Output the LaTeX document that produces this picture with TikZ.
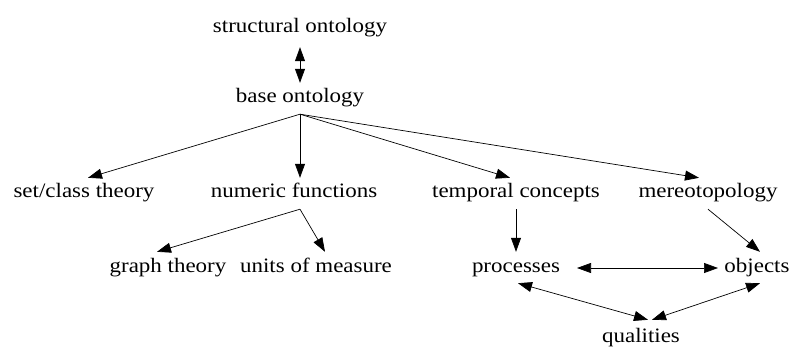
\documentclass[tikz,border=0pt]{standalone}
\usepackage{fontspec}
\setmainfont{Liberation Serif}[FakeStretch=1.12]
\usetikzlibrary{arrows.meta,calc}
\begin{document}
\begin{tikzpicture}[x=1pt,y=-1pt,
  concept/.style={anchor=base,inner sep=4pt,text height=16pt,text depth=7pt,
    font=\fontsize{20.5pt}{24pt}\selectfont},
  link/.style={line width=0.7pt,-{Triangle[length=14pt,width=10pt]}},
  both/.style={line width=0.7pt,{Triangle[length=14pt,width=10pt]}-{Triangle[length=14pt,width=10pt]}}]
\useasboundingbox (0,0) rectangle (794,347);

% concepts, placed on their baselines
\node[concept] (struct) at (300,33)  {structural ontology};
\node[concept] (base)   at (300,103) {base ontology};
\node[concept] (setc)   at (84,198)  {set/class theory};
\node[concept] (num)    at (294,198) {numeric functions};
\node[concept] (temp)   at (516,198) {temporal concepts};
\node[concept] (mereo)  at (708,198) {mereotopology};
\node[concept] (graph)  at (168,272) {graph theory};
\node[concept] (units)  at (316,272) {units of measure};
\node[concept] (proc)   at (516,272) {processes};
\node[concept] (obj)    at (757,272) {objects};
\node[concept] (qual)   at (641,342) {qualities};

% links
\draw[both] ([yshift=-3pt]struct.south) -- (base.north);
\draw[link] (base.south) -- ([xshift=4pt]setc.north);
\draw[link] (base.south) -- (base.south |- num.north);
\draw[link] (base.south) -- ([xshift=-6pt]temp.north);
\draw[link] (base.south) -- ([xshift=-9pt]mereo.north);
\draw[link] ([xshift=6pt]num.south) -- ([xshift=-11pt]graph.north);
\draw[link] ([xshift=6pt]num.south) -- ([xshift=9pt]units.north);
\draw[link] (temp.south) -- (proc.north);
\draw[link] (mereo.south) -- ([xshift=3pt]obj.north);
\draw[both] ($(proc.base)+(61,-4)$) -- ($(obj.base)+(-39,-4)$);
\draw[both] ([xshift=2pt]proc.south) -- ([xshift=7pt,yshift=2pt]qual.north);
\draw[both] ([xshift=3pt]obj.south) -- ([xshift=11pt,yshift=2pt]qual.north);
\end{tikzpicture}
\end{document}
